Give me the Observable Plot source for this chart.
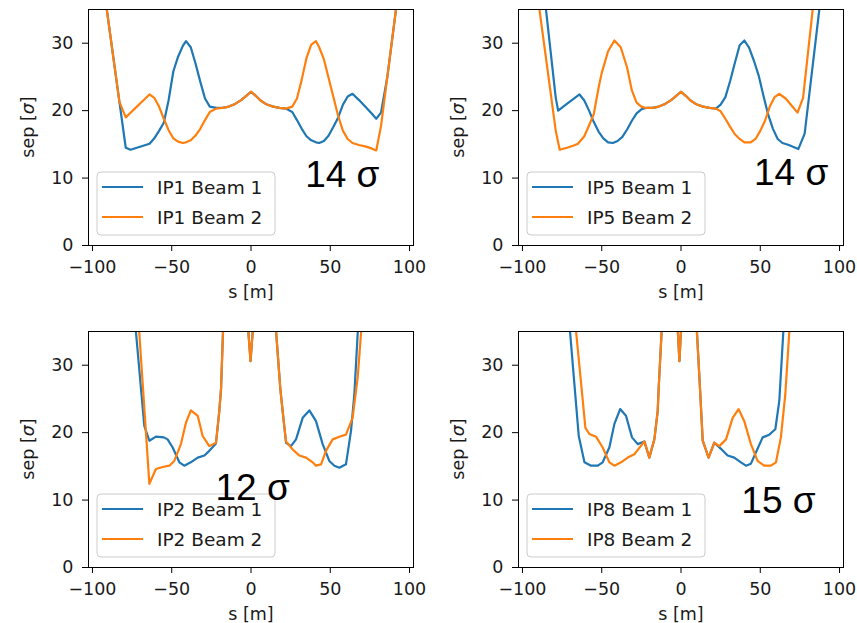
<!DOCTYPE html>
<html><head><meta charset="utf-8">
<script src="https://cdn.jsdelivr.net/npm/d3@7"></script>
<script src="https://cdn.jsdelivr.net/npm/@observablehq/plot@0.6"></script>
<style>
body{margin:0;background:#fff;}
#fig{position:relative;width:857px;height:623px;overflow:hidden;background:#fff;}
.panel{position:absolute;}
</style></head><body><div id="fig"></div>
<script>
const ticksX = [-100, -50, 0, 50, 100];
const ticksY = [0, 10, 20, 30];
const xLabel = "s [m]";
const yLabelParts = ["sep [", "σ", "]"];
const ips = ["IP1", "IP5", "IP2", "IP8"];
const beams = ["Beam 1", "Beam 2"];
const noteLabels = ["14 σ", "14 σ", "12 σ", "15 σ"];
const noteS = [57.6, 69.5, 1, 61.5];
const noteSep = [10.4, 10.8, 11.7, 9.8];

// IP1 (both beams on the same s grid)
const ip1S = [-93,-83,-79,-76,-72,-68,-64,-61,-58,-55,-52,-49,-46,-43,-41,-38,-35,-32,-29,-26,-22,-18,-14,-10,-6,-3,0,3,6,10,14,18,22,26,29,32,35,38,41,43,46,49,52,55,58,61,64,68,72,76,79,82,86,92];
const ip1B1 = [38.5,21.3,14.5,14.2,14.5,14.8,15.1,15.9,17.0,18.2,21.5,25.8,28.0,29.6,30.3,29.4,27.0,24.3,21.8,20.6,20.4,20.4,20.6,21.0,21.6,22.2,22.8,22.2,21.5,20.9,20.6,20.4,20.3,19.8,18.6,17.3,16.2,15.6,15.3,15.2,15.5,16.3,17.6,19.0,20.9,22.1,22.5,21.6,20.6,19.6,18.8,19.7,25.0,36.0];
const ip1B2 = [38.5,21.3,19.0,19.7,20.6,21.5,22.4,21.9,20.6,18.8,17.1,15.9,15.4,15.2,15.3,15.6,16.3,17.3,18.6,19.8,20.3,20.4,20.6,21.0,21.6,22.2,22.8,22.2,21.5,20.9,20.6,20.4,20.3,20.6,21.8,24.6,27.8,29.8,30.3,29.4,27.6,24.8,22.0,19.2,17.0,15.8,15.2,14.9,14.7,14.4,14.1,17.7,25.0,36.0];

// IP5
const ip5B1S = [-88,-79,-77.5,-72,-68,-64,-61,-58,-55,-52,-49,-46,-43,-40,-37,-34,-31,-28,-25,-22,-18,-14,-10,-6,-3,0,3,6,10,14,18,22,25,28,31,34,37,40,43,46,49,52,55,58,61,64,68,71,74,78,88];
const ip5B1 = [41.0,21.9,20.0,21.0,21.7,22.4,21.5,20.0,18.3,16.9,15.9,15.3,15.2,15.5,16.1,17.2,18.5,19.6,20.2,20.4,20.4,20.6,21.0,21.6,22.2,22.8,22.2,21.5,20.9,20.6,20.4,20.3,20.9,22.0,24.4,27.1,29.7,30.4,29.3,27.4,25.2,22.2,19.4,17.3,15.8,15.2,14.9,14.6,14.3,16.6,36.5];
const ip5B2S = [-93,-79,-76.5,-72,-68,-65,-61,-58,-55,-52,-50,-46,-42,-38,-34,-31,-28,-25,-22,-18,-14,-10,-6,-3,0,3,6,10,14,18,22,25,28,31,34,37,40,44,47,50,53,56,59,62,66,70,73.5,77,84];
const ip5B2 = [41.5,17.0,14.2,14.5,14.8,15.1,16.2,17.8,19.5,23.4,25.6,28.8,30.4,29.4,26.4,23.0,21.2,20.6,20.4,20.4,20.6,21.0,21.6,22.2,22.8,22.2,21.5,20.9,20.6,20.4,20.3,19.9,18.8,17.6,16.5,15.8,15.3,15.3,15.8,17.0,18.5,20.6,22.0,22.5,21.8,20.7,19.7,21.9,37.0];

// IP2
const ip2B1S = [-74,-67.3,-64.1,-60,-55,-52.6,-49.4,-45.2,-42.1,-38,-33.6,-29.4,-26.3,-22.1,-20,-18.9,-17.5,-2,-0.3,1.4,15.5,18.5,20.5,22.1,25.2,28.4,32.6,36.8,41,45.2,49.4,52.6,55.7,59.9,63.1,65.2,67.6];
const ip2B1 = [38.7,21.0,18.8,19.4,19.3,19.0,17.8,15.6,15.1,15.6,16.3,16.6,17.3,18.4,23.2,26.5,36,36,30.6,36,36,26.5,22.0,18.5,18.0,19.0,22.2,23.3,21.7,18.3,15.8,15.1,14.8,15.3,20.3,25.7,36];
const ip2B2S = [-71,-64.1,-60,-55.7,-51.5,-48.4,-44.2,-41,-37.9,-33.6,-30.5,-26.3,-22.1,-20,-18.9,-17.5,-2,-0.3,1.4,15.5,18.5,20.5,22.1,26.3,30.5,34.7,38.9,41,44.2,47.3,51.5,55.7,59.9,64.1,67.3,69.8];
const ip2B2 = [36.7,12.4,14.6,14.9,15.1,15.8,18.3,21.5,23.3,22.5,19.5,18.0,18.5,23.2,26.5,36,36,30.6,36,36,26.5,22.0,18.7,17.5,16.6,16.3,15.6,15.1,15.3,17.3,19.0,19.4,19.7,22.2,28.2,36];

// IP8
const ip8B1S = [-71,-64.5,-60.9,-56.7,-52.5,-49.4,-45.2,-42,-38.4,-34.7,-30.9,-27.3,-23.1,-20,-16.8,-14.7,-14.1,-12,-2.2,-1.0,0.2,9.8,12,13.7,17.4,21,25.2,29.4,33.6,37.8,41,44.1,47.3,51.5,55.7,59.5,62,64.8];
const ip8B1 = [37.8,19.5,15.6,15.1,15.1,15.6,17.8,21.3,23.5,22.5,19.3,18.3,18.7,16.3,19.0,23.2,26.5,36,36,30.6,36,36,26.5,18.8,16.3,18.5,17.6,16.6,16.3,15.6,15.1,15.4,17.1,19.3,19.7,20.5,24.7,36];
const ip8B2S = [-67,-60.3,-57.8,-53.6,-49.4,-45.2,-42,-37.8,-33.6,-29.4,-23.1,-20,-16.8,-14.7,-14.1,-12,-2.2,-1.0,0.2,9.8,12,13.7,17.4,21,24.2,28.4,32.6,36.3,39.9,44.1,48.3,52.5,56.7,59.9,63,65.8,68.6];
const ip8B2 = [37,20.7,19.8,19.4,17.8,15.6,15.1,15.6,16.3,16.8,18.7,16.3,19.0,23.2,26.5,36,36,30.6,36,36,26.5,18.8,16.3,18.5,18.0,19.0,22.2,23.5,21.7,18.3,15.8,15.1,15.1,15.6,19.3,25.7,36];

const colors = ["#1f77b4", "#ff7f0e"];

const series = [
  [[ip1S, ip1B1], [ip1S, ip1B2]],
  [[ip5B1S, ip5B1], [ip5B2S, ip5B2]],
  [[ip2B1S, ip2B1], [ip2B2S, ip2B2]],
  [[ip8B1S, ip8B1], [ip8B2S, ip8B2]]
];

const layout = [
  {left: 0, top: 0, width: 430, height: 310, mt: 9},
  {left: 430, top: 0, width: 427, height: 310, mt: 9},
  {left: 0, top: 321, width: 430, height: 302, mt: 10},
  {left: 430, top: 321, width: 427, height: 302, mt: 10}
];
const ML = 88, FW = 325, FH = 236;
const fmt = d => d < 0 ? "\u2212" + (-d) : String(d);

function makePanel(k) {
  const L = layout[k];
  const rows = series[k].map(([ss, vs], b) => ss.map((s, i) => ({s, sep: vs[i], beam: beams[b]})));
  const legend = (index, scales, values, dims) => {
    const g = d3.create("svg:g");
    const x0 = dims.marginLeft + 9;
    const y1 = dims.height - dims.marginBottom - 10;
    const y0 = y1 - 63;
    g.append("rect").attr("x", x0).attr("y", y0).attr("width", 178).attr("height", 63)
      .attr("rx", 4).attr("fill", "white").attr("fill-opacity", 0.8)
      .attr("stroke", "#cccccc").attr("stroke-width", 1);
    beams.forEach((b, i) => {
      const y = y0 + 15 + i * 30;
      g.append("line").attr("x1", x0 + 5).attr("x2", x0 + 46).attr("y1", y).attr("y2", y)
        .attr("stroke", colors[i]).attr("stroke-width", 2.2);
      g.append("text").attr("x", x0 + 60).attr("y", y).attr("dy", "0.36em")
        .attr("text-anchor", "start").attr("font-size", "18.5px")
        .attr("fill", "#1a1a1a").text(ips[k] + " " + b);
    });
    return g.node();
  };
  const yLabelMark = (index, scales, values, dims) => {
    const cx = dims.marginLeft - 60;
    const cy = dims.marginTop + (dims.height - dims.marginTop - dims.marginBottom) / 2;
    const t = d3.create("svg:text")
      .attr("transform", `translate(${cx},${cy}) rotate(-90)`)
      .attr("text-anchor", "middle").attr("dy", "0.32em").attr("fill", "#1a1a1a");
    t.append("tspan").text(yLabelParts[0]);
    t.append("tspan").attr("font-style", "italic").text(yLabelParts[1]);
    t.append("tspan").text(yLabelParts[2]);
    return t.node();
  };
  const chart = Plot.plot({
    width: L.width,
    height: L.height,
    marginLeft: ML,
    marginRight: L.width - ML - FW,
    marginTop: L.mt,
    marginBottom: L.height - L.mt - FH,
    x: {domain: [-102.5, 102.5]},
    y: {domain: [0, 35]},
    style: {fontFamily: "DejaVu Sans", fontSize: "17.5px", color: "#1a1a1a", background: "transparent", overflow: "visible"},
    marks: [
      Plot.line(rows[0], {x: "s", y: "sep", stroke: colors[0], strokeWidth: 2.2, clip: true}),
      Plot.line(rows[1], {x: "s", y: "sep", stroke: colors[1], strokeWidth: 2.2, clip: true}),
      Plot.frame({stroke: "#000", strokeWidth: 1}),
      legend,
      Plot.text([noteLabels[k]], {x: () => noteS[k], y: () => noteSep[k], text: d => d,
        fontFamily: "Liberation Sans", fontSize: 37, fill: "#000", textAnchor: "middle", lineAnchor: "middle"}),
      Plot.axisX({ticks: ticksX, tickSize: 6, tickPadding: 9.5, tickFormat: fmt, label: null, stroke: "#000"}),
      Plot.axisY({ticks: ticksY, tickSize: 6, tickPadding: 9, tickFormat: fmt, label: null, stroke: "#000"}),
      Plot.text([xLabel], {frameAnchor: "bottom", dy: 47, text: d => d, lineAnchor: "middle", fill: "#1a1a1a"}),
      yLabelMark
    ]
  });
  const div = document.createElement("div");
  div.className = "panel";
  div.style.left = L.left + "px";
  div.style.top = L.top + "px";
  div.appendChild(chart);
  return div;
}

const fig = document.getElementById("fig");
for (let k = 0; k < 4; k++) fig.appendChild(makePanel(k));
</script>
</body></html>
